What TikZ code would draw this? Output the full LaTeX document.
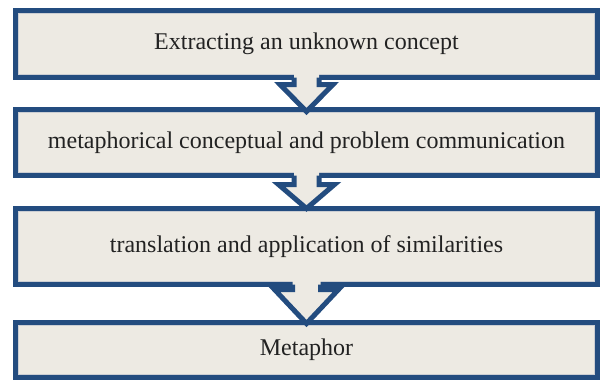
\documentclass[tikz,border=0pt]{standalone}
\usepackage{fontspec}
\setmainfont{Liberation Serif}
\usetikzlibrary{calc}
\definecolor{frameblue}{HTML}{234C7F}
\definecolor{boxfill}{HTML}{EDEAE3}
\definecolor{innerline}{HTML}{CBCED3}
\definecolor{textgray}{HTML}{222222}
\tikzset{
  stepbox/.style={draw=frameblue, line width=5pt, fill=boxfill, minimum width=582pt,
    inner sep=0pt, outer sep=0pt, text=textgray, font=\fontsize{24}{28}\selectfont},
  inset/.style={draw=innerline, line width=0.8pt},
  arrowbody/.style={fill=boxfill},
  arrowline/.style={draw=frameblue, line width=5pt, line join=miter, miter limit=10}
}
% block arrow: #1 upper box, #2 lower box, #3 half shaft width, #4 half head width,
% #5 head depth below the upper box, #6 tip depth below the lower box's top
\newcommand\blockarrow[6]{%
  \fill[arrowbody] ([shift={(-#3,7)}]#1.south) -- ([shift={(-#3,-#5)}]#1.south)
    -- ([shift={(-#4,-#5)}]#1.south) -- ([yshift=-#6]#2.north)
    -- ([shift={(#4,-#5)}]#1.south) -- ([shift={(#3,-#5)}]#1.south)
    -- ([shift={(#3,7)}]#1.south) -- cycle;
  \draw[arrowline] ([xshift=-#3]#1.south) -- ([shift={(-#3,-#5)}]#1.south)
    -- ([shift={(-#4,-#5)}]#1.south) -- ([yshift=-#6]#2.north)
    -- ([shift={(#4,-#5)}]#1.south) -- ([shift={(#3,-#5)}]#1.south)
    -- ([xshift=#3]#1.south);
}
\newcommand\insetline[1]{%
  \draw[inset] ([shift={(3pt,-3pt)}]#1.north west) rectangle ([shift={(-3pt,3pt)}]#1.south east);
}
\begin{document}
\begin{tikzpicture}[x=1pt, y=1pt]
  \useasboundingbox (0,0) rectangle (600,-380);
  \node[stepbox, minimum height=67pt] (b1) at (306.5,-44) {Extracting an unknown concept};
  \node[stepbox, minimum height=66pt] (b2) at (306.5,-142.5) {metaphorical conceptual and problem communication};
  \node[stepbox, minimum height=76pt] (b3) at (306.5,-246.5) {translation and application of similarities};
  \node[stepbox, minimum height=55pt] (b4) at (306.5,-350) {Metaphor};
  \insetline{b1}
  \insetline{b2}
  \insetline{b3}
  \insetline{b4}
  \blockarrow{b1}{b2}{12.5}{26.5}{7}{2}
  \blockarrow{b2}{b3}{12.5}{28}{9}{0}
  \blockarrow{b3}{b4}{14}{32}{5}{1}
\end{tikzpicture}
\end{document}
